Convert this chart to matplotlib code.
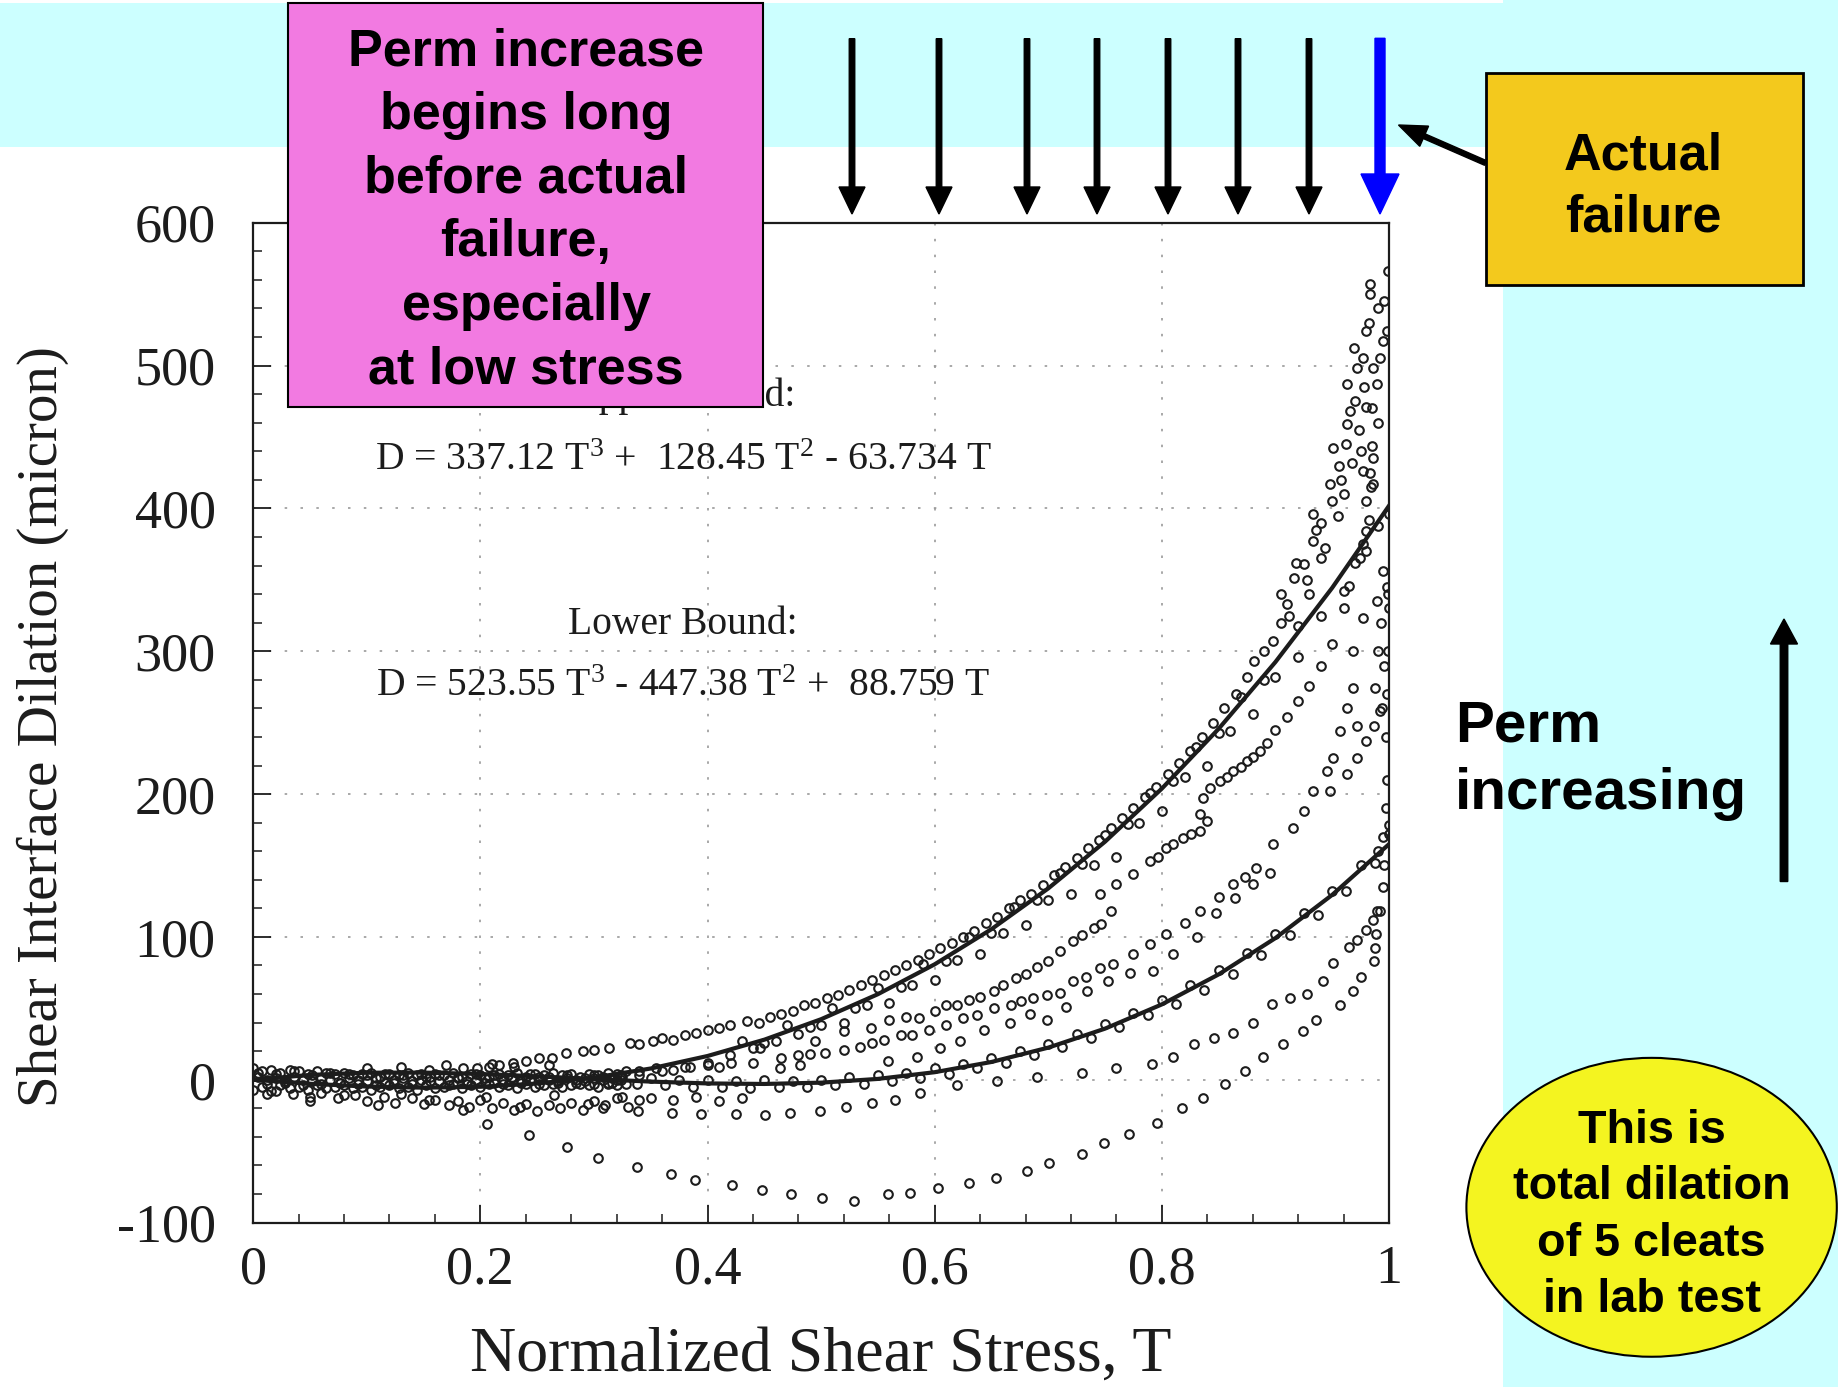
import matplotlib
matplotlib.use('Agg')
import matplotlib.pyplot as plt
from matplotlib.patches import Rectangle, Ellipse, FancyArrow
from matplotlib.ticker import MultipleLocator, FixedLocator, FixedFormatter

plt.rcParams['axes.unicode_minus'] = False
plt.rcParams['font.family'] = ['Liberation Serif', 'DejaVu Serif']
plt.rcParams['mathtext.fontset'] = 'custom'
plt.rcParams['mathtext.rm'] = 'Liberation Serif'
plt.rcParams['mathtext.it'] = 'Liberation Serif:italic'
plt.rcParams['mathtext.default'] = 'rm'

# ---------------- data ----------------
x_ticks = [0, 0.2, 0.4, 0.6, 0.8, 1.0]
x_tick_labels = ['0', '0.2', '0.4', '0.6', '0.8', '1']
y_ticks = [-100, 0, 100, 200, 300, 400, 500, 600]
y_tick_labels = ['-100', '0', '100', '200', '300', '400', '500', '600']

fit_T = [0.00, 0.05, 0.10, 0.15, 0.20, 0.25, 0.30, 0.35, 0.40, 0.45, 0.50,
         0.55, 0.60, 0.65, 0.70, 0.75, 0.80, 0.85, 0.90, 0.95, 1.00]
upper_fit = [0, -2.82, -4.75, -5.53, -4.91, -2.64, 1.54, 7.88, 16.63, 28.05, 42.38,
             59.9, 80.82, 105.42, 133.96, 166.67, 203.83, 245.67, 292.44, 344.42, 401.84]
lower_fit = [0, 3.38, 4.93, 5.01, 4.05, 2.41, 0.50, -1.29, -2.57, -2.94, -2.03,
             0.59, 5.29, 12.45, 22.49, 35.79, 52.75, 73.75, 99.17, 129.44, 164.93]

bandA_T = [0.000, 0.008, 0.016, 0.024, 0.032, 0.040, 0.048, 0.056, 0.064, 0.072,
           0.080, 0.088, 0.096, 0.104, 0.112, 0.120, 0.128, 0.136, 0.144, 0.152,
           0.160, 0.168, 0.176, 0.184, 0.192, 0.200, 0.208, 0.216, 0.224, 0.232,
           0.240, 0.248, 0.256, 0.264, 0.272, 0.280, 0.288, 0.296, 0.304, 0.312,
           0.320, 0.328]
band_top = [8, 6, 7, 5, 7, 6, 4, 6, 5, 4, 5, 3, 4, 5, 2, 4, 3, 5, 3, 2,
            4, 3, 5, 2, 4, 3, 2, 4, 3, 5, 2, 4, 3, 5, 3, 4, 2, 4, 3, 5, 4, 6]
band_bot = [-7, -5, -8, -4, -6, -5, -7, -4, -6, -5, -4, -6, -5, -7, -5, -4, -6, -5, -7, -4,
            -6, -5, -3, -6, -4, -5, -3, -5, -4, -6, -3, -5, -4, -3, -5, -4, -3, -4, -5, -3, -4, -3]
bandB_T = [0.004, 0.012, 0.020, 0.028, 0.036, 0.044, 0.052, 0.060, 0.068, 0.076,
           0.084, 0.092, 0.100, 0.108, 0.116, 0.124, 0.132, 0.140, 0.148, 0.156,
           0.164, 0.172, 0.180, 0.188, 0.196, 0.204, 0.212, 0.220, 0.228, 0.236,
           0.244, 0.252, 0.260, 0.268, 0.276, 0.284, 0.292, 0.300, 0.308, 0.316, 0.324]
band_mid = [2, 0, 1, -1, 2, 0, -1, 1, 0, -2, 1, 0, -1, 1, -2, 0, 1, -1, 0, 2,
            -1, 0, 1, -1, 0, 1, -2, 0, 1, -1, 0, 2, 0, -1, 1, 0, -1, 1, 0, 1, 0]
band_mid2 = [5, -3, 4, -2, 6, -4, 3, -3, 5, -2, 4, -3, 3, -4, 4, -2, 3, -3, 4, -1,
             3, -4, 2, -3, 4, -2, 3, -3, 2, -2, 4, -3, 2, -2, 3, -2, 1, -3, 2, -2, 3]

low_T = [0.012, 0.02, 0.035, 0.05, 0.06, 0.075, 0.09, 0.10, 0.115, 0.125,
         0.14, 0.15, 0.16, 0.172, 0.18, 0.19, 0.20, 0.21, 0.22, 0.23,
         0.24, 0.25, 0.26, 0.27, 0.28, 0.29, 0.30, 0.31, 0.32, 0.33,
         0.34, 0.05, 0.08, 0.11, 0.13, 0.155, 0.185, 0.205, 0.235, 0.265,
         0.295, 0.325, 0.35, 0.37, 0.39, 0.41, 0.43]
low_D = [-10, -8, -10, -12, -9, -13, -11, -15, -12, -16,
         -13, -17, -14, -18, -15, -19, -14, -20, -16, -21,
         -17, -22, -18, -20, -16, -21, -15, -18, -13, -19,
         -14, -15, -11, -18, -10, -14, -21, -12, -19, -11,
         -17, -12, -13, -14, -12, -15, -13]

hi_T = [0.10, 0.13, 0.155, 0.17, 0.185, 0.21, 0.23, 0.26]
hi_D = [8, 9, 7, 10, 8, 11, 9, 10]

upperA_T = [0.197, 0.208, 0.216, 0.229, 0.240, 0.252, 0.263, 0.275, 0.290, 0.300,
            0.313, 0.332, 0.340, 0.352, 0.360, 0.370, 0.380, 0.390, 0.400, 0.410,
            0.420, 0.435, 0.445, 0.455, 0.465, 0.475, 0.485, 0.495, 0.505, 0.515,
            0.525, 0.535, 0.545, 0.555, 0.565, 0.575, 0.585, 0.595, 0.605, 0.615,
            0.625, 0.635, 0.645, 0.655, 0.665, 0.675, 0.685, 0.695, 0.705, 0.715,
            0.725, 0.735, 0.745, 0.755, 0.765, 0.775, 0.785, 0.795, 0.805, 0.815,
            0.825, 0.835, 0.845, 0.855, 0.865, 0.875, 0.881, 0.890, 0.898, 0.905,
            0.910, 0.916, 0.925, 0.933, 0.940, 0.933, 0.948, 0.951, 0.956, 0.963,
            0.966, 0.963, 0.972, 0.969, 0.980, 0.983, 0.983, 0.995, 0.998, 0.999,
            0.989, 0.980, 0.975, 0.977, 0.986]
upperA_D = [8, 9, 10, 12, 13, 15, 15, 19, 20, 21,
            22, 26, 25, 27, 29, 28, 31, 33, 35, 36,
            38, 41, 40, 44, 46, 48, 52, 54, 57, 59,
            63, 66, 70, 73, 77, 80, 84, 88, 92, 96,
            100, 104, 110, 114, 120, 126, 130, 136, 143, 149,
            155, 162, 168, 176, 183, 190, 198, 205, 214, 222,
            230, 240, 250, 260, 270, 282, 293, 300, 307, 320,
            333, 351, 361, 377, 390, 396, 417, 442, 430, 459,
            468, 487, 498, 512, 524, 550, 557, 517, 524, 566,
            487, 471, 440, 426, 417]

upperTop_T = [0.905, 0.912, 0.918, 0.928, 0.936, 0.944, 0.950, 0.955, 0.958, 0.962,
              0.967, 0.970, 0.974, 0.977, 0.978, 0.982, 0.986, 0.990, 0.992, 0.996,
              0.990, 0.985, 0.960, 0.940, 0.930, 0.920, 0.990, 0.993, 0.996, 0.999,
              0.994, 0.998, 0.997]
upperTop_D = [340, 325, 362, 350, 385, 372, 405, 395, 420, 445,
              432, 475, 455, 505, 485, 530, 498, 540, 505, 545,
              460, 470, 410, 365, 340, 318, 300, 320, 290, 340,
              260, 210, 190]

upperB_T = [0.32, 0.34, 0.36, 0.38, 0.40, 0.42, 0.44, 0.46, 0.48, 0.50,
            0.52, 0.54, 0.56, 0.58, 0.60, 0.62, 0.64, 0.66, 0.68, 0.70,
            0.72, 0.74, 0.76, 0.78, 0.80, 0.82, 0.84, 0.86, 0.88, 0.90,
            0.92, 0.94, 0.96, 0.97, 0.98, 0.99, 1.00]
upperB_D = [0, 3, 6, 9, 12, 17, 22, 27, 32, 38,
            40, 52, 54, 66, 70, 84, 88, 103, 108, 126,
            130, 150, 156, 180, 188, 212, 220, 244, 256, 282,
            296, 325, 342, 362, 370, 388, 396]

upperC_T = [0.43, 0.45, 0.47, 0.49, 0.51, 0.53, 0.55, 0.57, 0.59, 0.61, 0.63, 0.65,
            0.67, 0.69, 0.71, 0.73, 0.75, 0.77, 0.79, 0.81, 0.83, 0.85, 0.87, 0.89]
upperC_D = [27, 26, 38, 37, 50, 50, 64, 65, 81, 83, 100, 103,
            121, 126, 145, 151, 171, 179, 201, 209, 233, 243, 268, 280]

midD_T = [0.560, 0.575, 0.586, 0.600, 0.610, 0.620, 0.630, 0.640, 0.652, 0.660,
          0.672, 0.680, 0.690, 0.700, 0.710, 0.722, 0.730, 0.740, 0.746, 0.755,
          0.7456, 0.760, 0.775, 0.790, 0.797, 0.804, 0.810, 0.819, 0.826, 0.834,
          0.8395, 0.834, 0.8365, 0.842, 0.851, 0.857, 0.863, 0.870, 0.875, 0.880,
          0.886, 0.893, 0.900, 0.910, 0.920, 0.930, 0.940, 0.950, 0.960, 0.965,
          0.9745, 0.977, 0.980, 0.982, 0.980, 0.984, 0.983, 0.986, 0.985]
midD_D = [42, 44, 43, 48, 52, 52, 56, 58, 62, 66,
          71, 74, 79, 83, 90, 97, 101, 106, 109, 118,
          130, 137, 144, 153, 156, 162, 165, 169, 172, 174,
          181, 186, 197, 204, 209, 212, 216, 219, 223, 226,
          230, 236, 245, 254, 265, 276, 290, 305, 330, 346,
          365, 375, 384, 392, 405, 415, 425, 435, 444]

midE_T = [0.340, 0.355, 0.370, 0.385, 0.400, 0.410, 0.421, 0.440, 0.465, 0.480,
          0.490, 0.503, 0.520, 0.534, 0.545, 0.555, 0.570, 0.580, 0.595, 0.610,
          0.625, 0.637, 0.652, 0.667, 0.676, 0.687, 0.699, 0.710, 0.722, 0.733,
          0.7456, 0.757, 0.775, 0.790, 0.804, 0.820, 0.834, 0.850, 0.863, 0.873,
          0.883, 0.898, 0.9158, 0.925, 0.933, 0.945, 0.951, 0.957, 0.963, 0.9686,
          0.9686, 0.977, 0.989, 0.995, 0.998, 1.000, 0.999, 0.998, 0.997, 1.000]
midE_D = [6, 8, 7, 9, 10, 9, 12, 12, 15, 17,
          18, 19, 21, 23, 26, 28, 31, 31, 35, 38,
          43, 45, 50, 52, 55, 57, 59, 61, 69, 72,
          78, 81, 88, 95, 102, 110, 118, 128, 137, 142,
          148, 165, 176, 188, 202, 216, 225, 244, 260, 274,
          300, 323, 335, 356, 345, 330, 300, 270, 240, 172]

midF_T = [0.446, 0.464, 0.481, 0.495, 0.520, 0.544, 0.559, 0.584, 0.605, 0.622,
          0.643, 0.666, 0.684, 0.699, 0.716, 0.734, 0.753, 0.772, 0.7925, 0.810,
          0.8307, 0.848, 0.8644, 0.8806, 0.895, 0.948, 0.963, 0.9716, 0.980, 0.9716,
          0.987, 0.992, 0.988]
midF_D = [22, 8, 10, 27, 34, 36, 13, 16, 22, 27,
          35, 40, 46, 42, 51, 62, 69, 75, 76, 88,
          100, 117, 127, 137, 145, 202, 214, 225, 237, 248,
          248, 258, 274]

lowF_T = [0.300, 0.3125, 0.325, 0.3375, 0.350, 0.3625, 0.375, 0.3875, 0.400, 0.4125,
          0.425, 0.4375, 0.450, 0.4625, 0.475, 0.4875, 0.500, 0.5125, 0.525, 0.5375,
          0.550, 0.5625, 0.575, 0.5875, 0.600, 0.6125, 0.625, 0.6375, 0.650, 0.6625,
          0.675, 0.6875, 0.700, 0.7125, 0.725, 0.7375, 0.750, 0.7625, 0.775, 0.7875,
          0.800, 0.8125, 0.825, 0.8375, 0.850, 0.8625, 0.875, 0.8875, 0.900, 0.9125,
          0.925, 0.9375, 0.950, 0.9625, 0.975, 0.9875, 1.000, 0.995, 0.990]
lowF_D = [3, -2, 2, -3, 1, -4, 0, -5, 0, -5,
          -1, -6, 0, -5, -1, -5, 0, -4, 2, -3,
          3, -1, 5, 1, 8, 4, 11, 8, 15, 12,
          20, 17, 25, 23, 32, 29, 39, 37, 47, 45,
          56, 53, 66, 63, 77, 74, 89, 87, 102, 101,
          117, 115, 132, 132, 150, 152, 178, 170, 160]

G1_T = [0.206, 0.2425, 0.276, 0.304, 0.3376, 0.3676, 0.3887, 0.4213, 0.448, 0.4735,
        0.5005, 0.529, 0.5586, 0.5786, 0.6026, 0.630, 0.654, 0.681, 0.701, 0.730,
        0.749, 0.771, 0.7955, 0.818, 0.8365, 0.8556, 0.873, 0.889, 0.907, 0.924,
        0.936, 0.957, 0.968, 0.975, 0.987, 0.988, 0.9886, 0.992, 0.995, 0.996]
G1_D = [-31, -39, -47, -55, -61, -66, -70, -74, -77, -80,
        -83, -85, -80, -79, -76, -72, -69, -64, -58, -52,
        -44, -38, -30, -20, -13, -3, 6, 16, 25, 34,
        42, 52, 62, 72, 83, 92, 102, 118, 135, 150]

G2_T = [0.308, 0.339, 0.369, 0.394, 0.425, 0.451, 0.473, 0.499, 0.522, 0.545,
        0.565, 0.587, 0.620, 0.655, 0.690, 0.730, 0.760, 0.791, 0.810, 0.828,
        0.846, 0.863, 0.880, 0.897, 0.913, 0.928, 0.942, 0.951, 0.965, 0.972,
        0.980, 0.986, 0.989]
G2_D = [-20, -22, -23, -24, -24, -25, -23, -22, -19, -16,
        -14, -9, -4, -1, 2, 5, 8, 11, 16, 25,
        29, 33, 40, 53, 57, 60, 69, 82, 93, 98,
        105, 112, 118]

# ---------------- figure ----------------
W, H = 1838, 1387
fig = plt.figure(figsize=(W / 100, H / 100), dpi=100)
fig.patch.set_facecolor('white')
tr = fig.dpi_scale_trans


def P(x, y):
    """pixel position (from top-left) -> inches from bottom-left"""
    return (x / 100.0, (H - y) / 100.0)


cyan = '#CCFFFF'
fig.add_artist(Rectangle(P(0, 147), W / 100, 1.44, transform=tr,
                         facecolor=cyan, edgecolor='none', zorder=-10))
fig.add_artist(Rectangle(P(1503, H), (W - 1503) / 100, H / 100, transform=tr,
                         facecolor=cyan, edgecolor='none', zorder=-10))

ax_l, ax_r, ax_t, ax_b = 253.2, 1389.0, 222.7, 1222.6
ax = fig.add_axes([ax_l / W, 1 - ax_b / H, (ax_r - ax_l) / W, (ax_b - ax_t) / H])
ax.set_facecolor('none')
ax.set_xlim(0, 1)
ax.set_ylim(-100, 600)

ink = '#1c1c1c'
mk = dict(linestyle='none', marker='o', ms=6.2, mfc='none', mec=ink, mew=1.5, zorder=3)
series = [(bandA_T, band_top), (bandA_T, band_bot), (bandB_T, band_mid), (bandB_T, band_mid2),
          (low_T, low_D), (hi_T, hi_D), (upperA_T, upperA_D), (upperTop_T, upperTop_D),
          (upperB_T, upperB_D), (upperC_T, upperC_D), (midD_T, midD_D), (midE_T, midE_D),
          (midF_T, midF_D), (lowF_T, lowF_D), (G1_T, G1_D), (G2_T, G2_D)]
for T, D in series:
    ax.plot(T, D, **mk)
ax.plot(fit_T, upper_fit, color=ink, lw=3.0, zorder=4)
ax.plot(fit_T, lower_fit, color=ink, lw=3.0, zorder=4)

ax.xaxis.set_major_locator(FixedLocator(x_ticks))
ax.xaxis.set_major_formatter(FixedFormatter(x_tick_labels))
ax.xaxis.set_minor_locator(MultipleLocator(0.04))
ax.yaxis.set_major_locator(FixedLocator(y_ticks))
ax.yaxis.set_major_formatter(FixedFormatter(y_tick_labels))
ax.yaxis.set_minor_locator(MultipleLocator(20))
ax.tick_params(which='both', direction='in', top=False, right=False, colors=ink)
ax.tick_params(which='major', length=13, width=1.3)
ax.tick_params(which='minor', length=6.5, width=1.1)
ax.tick_params(axis='x', which='major', pad=16, labelsize=39)
ax.tick_params(axis='y', which='major', pad=27, labelsize=39)
for sp in ax.spines.values():
    sp.set_linewidth(1.6)
    sp.set_color(ink)
ax.set_axisbelow(True)
ax.grid(True, which='major', color='#9a9a9a', linestyle=(0, (1.5, 8)), linewidth=1.2)

serif = ['Liberation Serif', 'DejaVu Serif']
fig.text(*P(821, 1371), 'Normalized Shear Stress, T', transform=tr, fontsize=46,
         family=serif, ha='center', va='baseline', color=ink)
fig.text(*P(57, 727), 'Shear Interface Dilation (micron)', transform=tr, fontsize=41,
         family=serif, ha='center', va='baseline', rotation=90, rotation_mode='anchor', color=ink)

eq_x = 683
eq_fs = 28.5
fig.text(*P(eq_x, 405.6), 'Upper Bound:', transform=tr, fontsize=eq_fs, family=serif,
         ha='center', va='baseline', color=ink, zorder=2)
fig.text(*P(eq_x, 470), r'D = 337.12 T$^3$ +  128.45 T$^2$ - 63.734 T', transform=tr,
         fontsize=eq_fs, family=serif, ha='center', va='baseline', color=ink, zorder=2)
fig.text(*P(eq_x, 634), 'Lower Bound:', transform=tr, fontsize=eq_fs, family=serif,
         ha='center', va='baseline', color=ink, zorder=2)
fig.text(*P(eq_x, 696), r'D = 523.55 T$^3$ - 447.38 T$^2$ +  88.759 T', transform=tr,
         fontsize=eq_fs, family=serif, ha='center', va='baseline', color=ink, zorder=2)

sans = ['Liberation Sans', 'DejaVu Sans']

# pink call-out box
fig.add_artist(Rectangle(P(288, 407), 4.75, (407 - 3.5) / 100, transform=tr,
                         facecolor='#F27AE1', edgecolor='black', linewidth=1.5, zorder=10))
pink_lines = ['Perm increase', 'begins long', 'before actual', 'failure,', 'especially', 'at low stress']
for i, s in enumerate(pink_lines):
    fig.text(*P(526, 65.6 + 63.5 * i), s, transform=tr, fontsize=37.5, family=sans,
             fontweight='bold', ha='center', va='baseline', color='black', zorder=11)

# downward arrows
for xp in [852, 939, 1027, 1097, 1168, 1238, 1309]:
    fig.add_artist(FancyArrow(*P(xp, 38.7), 0, -(214 - 38.7) / 100, width=0.055,
                              head_width=0.26, head_length=0.27, length_includes_head=True,
                              transform=tr, color='black', zorder=8))
fig.add_artist(FancyArrow(*P(1380, 38.3), 0, -(214 - 38.3) / 100, width=0.10,
                          head_width=0.38, head_length=0.40, length_includes_head=True,
                          transform=tr, color='#0000FF', zorder=8))

# Actual failure box
fig.add_artist(Rectangle(P(1485.6, 285), 3.171, 2.123, transform=tr,
                         facecolor='#F3C91D', edgecolor='black', linewidth=2, zorder=10))
fig.text(*P(1643.5, 170), 'Actual', transform=tr, fontsize=37.5, family=sans,
         fontweight='bold', ha='center', va='baseline', color='black', zorder=11)
fig.text(*P(1643.5, 232), 'failure', transform=tr, fontsize=37.5, family=sans,
         fontweight='bold', ha='center', va='baseline', color='black', zorder=11)
x0, y0 = P(1485.6, 163)
x1, y1 = P(1398.5, 125)
fig.add_artist(FancyArrow(x0, y0, x1 - x0, y1 - y0, width=0.05, head_width=0.22,
                          head_length=0.28, length_includes_head=True, transform=tr,
                          color='black', zorder=9))

# Perm increasing
fig.text(*P(1455, 741), 'Perm', transform=tr, fontsize=42, family=sans,
         fontweight='bold', ha='left', va='baseline', color='black', zorder=11)
fig.text(*P(1455, 809), 'increasing', transform=tr, fontsize=42, family=sans,
         fontweight='bold', ha='left', va='baseline', color='black', zorder=11)
fig.add_artist(FancyArrow(*P(1784, 881.5), 0, (881.5 - 619) / 100, width=0.075,
                          head_width=0.27, head_length=0.25, length_includes_head=True,
                          transform=tr, color='black', zorder=8))

# yellow ellipse
fig.add_artist(Ellipse(P(1651.6, 1207.3), 3.704, 2.989, transform=tr,
                       facecolor='#F4F420', edgecolor='black', linewidth=1.5, zorder=10))
for s, yb in zip(['This is', 'total dilation', 'of 5 cleats', 'in lab test'],
                 [1143, 1199, 1255.5, 1311.7]):
    fig.text(*P(1651.6, yb), s, transform=tr, fontsize=33.7, family=sans,
             fontweight='bold', ha='center', va='baseline', color='black', zorder=11)

fig.savefig('out.png', dpi=100, facecolor='white')
